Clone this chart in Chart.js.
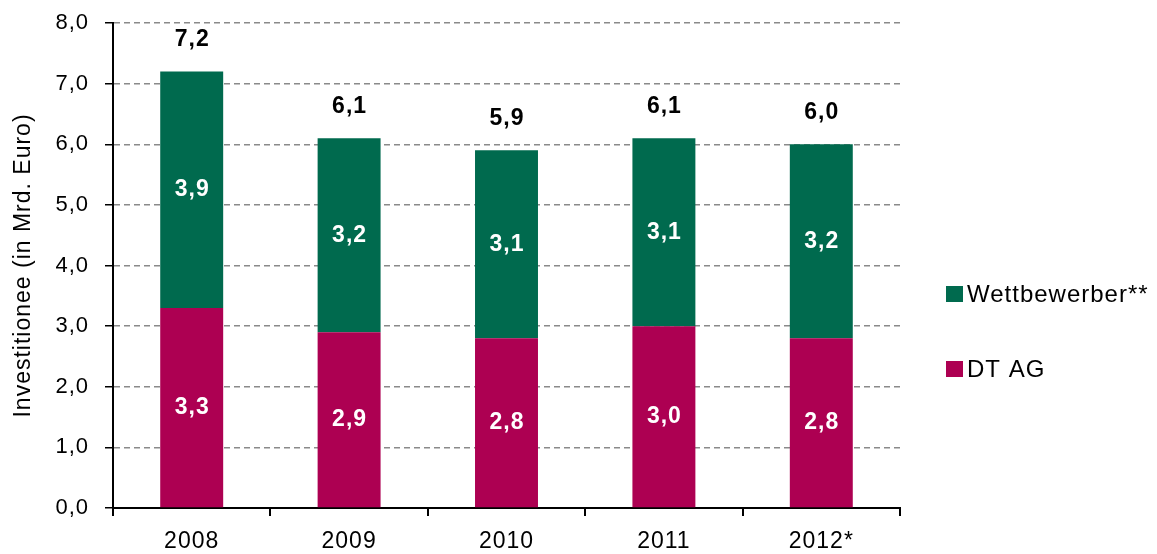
<!DOCTYPE html>
<html><head><meta charset="utf-8">
<script src="https://cdn.jsdelivr.net/npm/chart.js@4/dist/chart.umd.min.js"></script>
<style>html,body{margin:0;padding:0;background:#fff}#wrap{width:1157px;height:554px}</style>
</head><body><div id="wrap"><canvas id="c" width="1157" height="554"></canvas></div>
<script>
const categories = ["2008", "2009", "2010", "2011", "2012*"];
const dtAg = [3.3, 2.9, 2.8, 3.0, 2.8];
const wettbewerber = [3.9, 3.2, 3.1, 3.1, 3.2];
const totals = [7.2, 6.1, 5.9, 6.1, 6.0];
const yTicks = [0, 1, 2, 3, 4, 5, 6, 7, 8];

const FONT = "'Liberation Sans', Arial, sans-serif";
const fmt = v => v.toFixed(1).replace('.', ',');

const spacingPlugin = {
  id: 'spacing',
  beforeUpdate(chart) { chart.ctx.letterSpacing = '1px'; },
  beforeLayout(chart) { chart.ctx.letterSpacing = '1px'; },
  beforeDraw(chart) { chart.ctx.letterSpacing = '1px'; }
};

const labelPlugin = {
  id: 'labels',
  afterDatasetsDraw(chart) {
    const ctx = chart.ctx;
    const y = chart.scales.y;
    ctx.save();
    ctx.letterSpacing = '1px';
    ctx.textAlign = 'center';
    ctx.textBaseline = 'middle';
    ctx.font = 'bold 23px ' + FONT;
    chart.data.datasets.forEach((ds, di) => {
      const meta = chart.getDatasetMeta(di);
      meta.data.forEach((bar, i) => {
        ctx.fillStyle = '#ffffff';
        ctx.fillText(fmt(ds.data[i]), bar.x + 0.5, (bar.y + bar.base) / 2);
      });
    });
    const meta0 = chart.getDatasetMeta(0);
    ctx.fillStyle = '#000000';
    totals.forEach((t, i) => {
      ctx.fillText(fmt(t), meta0.data[i].x + 0.5, y.getPixelForValue(t) - 32);
    });
    // legend
    ctx.textAlign = 'left';
    ctx.font = '24px ' + FONT;
    const order = [1, 0];
    const ys = [294, 369];
    order.forEach((di, k) => {
      const ds = chart.data.datasets[di];
      ctx.fillStyle = ds.backgroundColor;
      ctx.fillRect(946, ys[k] - 8, 17, 16);
      ctx.fillStyle = '#000';
      ctx.fillText(ds.label, 967, ys[k] + 1);
    });
    ctx.restore();
  }
};

new Chart(document.getElementById('c'), {
  type: 'bar',
  data: {
    labels: categories,
    datasets: [
      { label: 'DT AG', data: dtAg, backgroundColor: '#AD0052', barPercentage: 0.4, categoryPercentage: 1 },
      { label: 'Wettbewerber**', data: wettbewerber, backgroundColor: '#006A4E', barPercentage: 0.4, categoryPercentage: 1 }
    ]
  },
  options: {
    responsive: false,
    animation: false,
    devicePixelRatio: 1,
    layout: { padding: { left: 0, right: 257, top: 23, bottom: 0 } },
    plugins: { legend: { display: false }, tooltip: { enabled: false } },
    scales: {
      x: {
        stacked: true,
        afterFit(s) { s.height = 46; s.paddingLeft = 0; s.paddingRight = 0; },
        grid: { display: true, drawOnChartArea: false, drawTicks: true, tickLength: 8, offset: true, color: '#000', lineWidth: 2 },
        border: { display: true, color: '#000', width: 2 },
        ticks: { color: '#000', font: { family: FONT, size: 23 }, padding: 12 }
      },
      y: {
        stacked: true,
        min: 0, max: 8,
        afterFit(s) { s.width = 113; s.paddingTop = 0; s.paddingBottom = 0; },
        afterBuildTicks(s) { s.ticks = yTicks.map(v => ({ value: v })); },
        grid: { color: '#8a8a8a', lineWidth: 1.5, tickColor: '#000', tickLength: 8, drawTicks: true },
        border: { display: true, color: '#000', width: 2, dash: [6, 4] },
        ticks: { color: '#000', font: { family: FONT, size: 22 }, padding: 16, callback: v => fmt(v) },
        title: { display: true, text: 'Investitionee (in Mrd. Euro)', color: '#000', font: { family: FONT, size: 23 }, padding: { top: 10, bottom: 0 } }
      }
    }
  },
  plugins: [spacingPlugin, labelPlugin]
});
</script></body></html>
